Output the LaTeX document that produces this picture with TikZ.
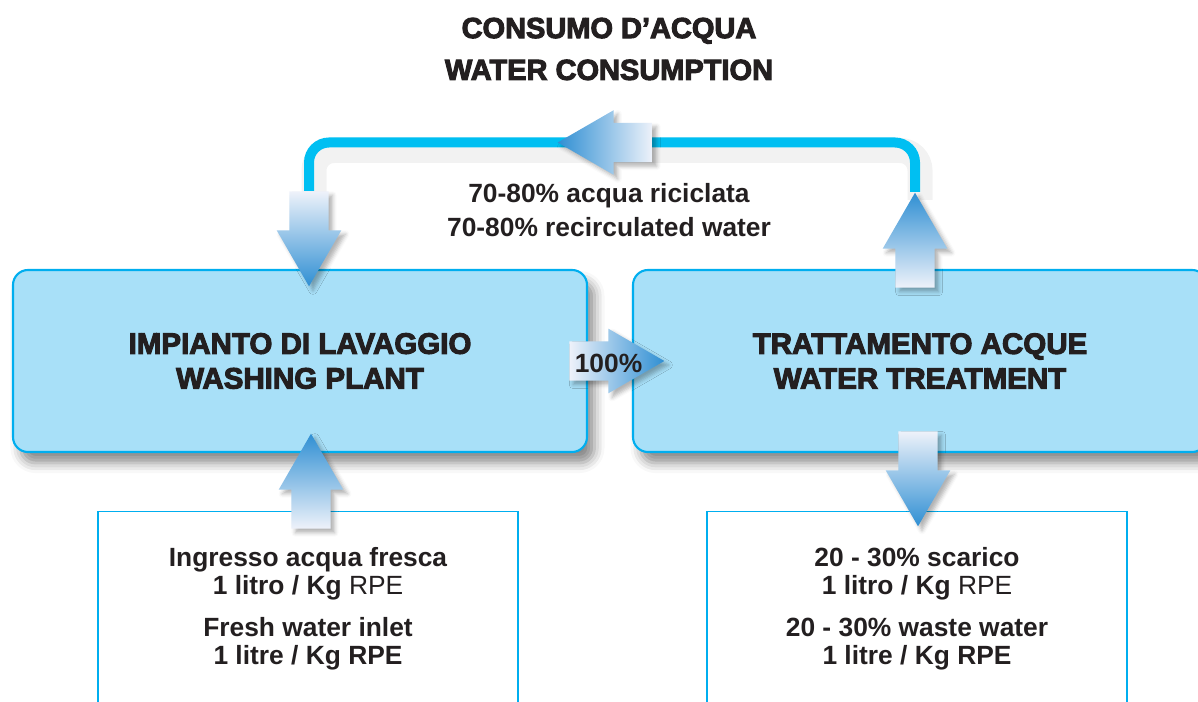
\documentclass[tikz,border=0pt]{standalone}
\usepackage{fontspec}
\setmainfont{Liberation Sans}
\newfontfamily\heavy[FakeBold=3.5]{Liberation Sans Bold}
\usepackage{tikz}
\usetikzlibrary{shapes.arrows}
\usetikzlibrary{shadows.blur}
\usetikzlibrary{backgrounds}
\definecolor{ink}{HTML}{231F20}
\definecolor{boxblue}{HTML}{A8E0F8}
\definecolor{edgeblue}{HTML}{00AEEF}
\definecolor{pipeblue}{HTML}{00BFF2}
\definecolor{arrdark}{HTML}{2F8FD3}
\definecolor{arrlight}{HTML}{EEF2FA}

\begin{document}
\begin{tikzpicture}[
	every node/.style={text=ink},
	bigbox/.style={draw=edgeblue,line width=1.2pt,fill=boxblue,rounded corners=0.3cm,
		minimum width=11.48cm,minimum height=3.64cm,align=center,
		font=\heavy\fontsize{16.8}{19.8}\selectfont,
		blur shadow={shadow xshift=0.15cm,shadow yshift=-0.22cm,shadow blur radius=0.2cm,shadow opacity=45}},
	infobox/.style={draw=edgeblue,line width=0.6pt,minimum width=8.4cm,minimum height=3.9cm,
		anchor=north,align=center,font=\bfseries\fontsize{15}{15.9}\selectfont},
	blockarrow/.style={single arrow,minimum height=1.9cm,minimum width=1.28cm,anchor=tip,
		single arrow head extend=0.255cm,single arrow tip angle=60,inner sep=0.385cm,
		blur shadow={shadow xshift=0.08cm,shadow yshift=-0.08cm,shadow blur radius=0.08cm,shadow opacity=30}},
	uparrow/.style={blockarrow,shape border rotate=90,top color=arrdark,bottom color=arrlight},
	downarrow/.style={blockarrow,shape border rotate=270,bottom color=arrdark,top color=arrlight},
	pipe/.style={draw=pipeblue,line width=0.2cm,rounded corners=0.4cm},
	pipeshadow/.style={draw=black,opacity=0.05,line width=0.5cm,rounded corners=0.4cm,
		transform canvas={shift={(0.1cm,-0.16cm)}}}
	]
	\useasboundingbox (0,0) rectangle (23.96,-14.04);

	% titles
	\node[font=\heavy\fontsize{16.5}{23.8}\selectfont,align=center] (title) at (12.18,-0.98) {CONSUMO D’ACQUA\\WATER CONSUMPTION};
	\node[font=\bfseries\fontsize{15}{19.3}\selectfont,align=center] (recnote) at (12.18,-4.2) {70-80\% acqua riciclata\\70-80\% recirculated water};

	% main blocks
	\node[bigbox] (plant) at (6.0,-7.22) {IMPIANTO DI LAVAGGIO\\WASHING PLANT};
	\node[bigbox] (treat) at (18.4,-7.22) {TRATTAMENTO ACQUE\\WATER TREATMENT};

	% lower boxes
	\node[infobox] (inlet) at (6.16,-10.22) {Ingresso acqua fresca\\1 litro / Kg {\mdseries RPE}\\[7.9pt]Fresh water inlet\\1 litre / Kg RPE};
	\node[infobox] (waste) at (18.34,-10.22) {20 - 30\% scarico\\1 litro / Kg {\mdseries RPE}\\[7.9pt]20 - 30\% waste water\\1 litre / Kg RPE};

	% arrows (placed by their tips)
	\node[blockarrow,shape border rotate=180,left color=arrdark,right color=arrlight] (recirc) at (11.14,-2.85) {};
	\node[downarrow] (toplant) at (6.18,-5.74) {};
	\node[uparrow] (fromtreat) at (18.3,-3.84) {};
	\node[blockarrow,left color=arrlight,right color=arrdark] (pct) at (13.3,-7.22) {};
	\node[font=\bfseries\fontsize{15}{15}\selectfont] (pctlabel) at ([xshift=-1.13cm,yshift=-0.04cm]pct.tip) {100\%};
	\node[uparrow] (freshin) at (6.22,-8.66) {};
	\node[downarrow] (wasteout) at (18.36,-10.54) {};

	% recirculation pipe
	\begin{scope}[on background layer]
		\draw[pipeshadow] (fromtreat.tip) -- (fromtreat.tip |- recirc.center) -- (toplant.tail |- recirc.center) -- (toplant.tail);
		\draw[pipe] (fromtreat.tip) -- (fromtreat.tip |- recirc.center) -- (toplant.tail |- recirc.center) -- (toplant.tail);
	\end{scope}
\end{tikzpicture}
\end{document}
